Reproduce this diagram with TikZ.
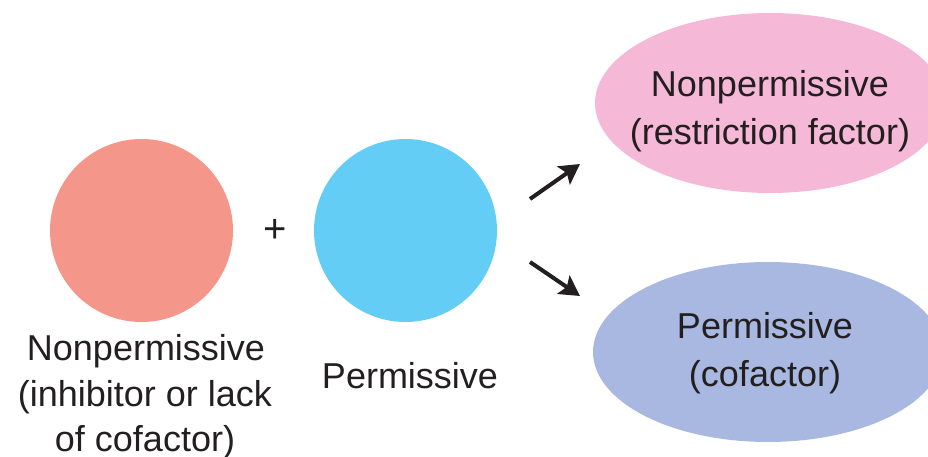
\documentclass[tikz,border=0pt]{standalone}
\usepackage{fontspec}
\setmainfont{Liberation Sans}
\usetikzlibrary{shapes.geometric,arrows.meta}
\definecolor{salmon}{RGB}{244,150,138}
\definecolor{skyb}{RGB}{100,205,245}
\definecolor{pinkel}{RGB}{245,185,215}
\definecolor{lavel}{RGB}{168,184,224}
\definecolor{txt}{RGB}{35,31,32}
\tikzset{
  cell/.style={circle, minimum size=183pt, inner sep=0pt, draw=none},
  blob/.style={ellipse, minimum width=350pt, minimum height=180pt, inner sep=0pt, draw=none},
  lbl/.style={anchor=base, inner sep=0pt, text=txt, font=\fontsize{36}{46}\selectfont},
  arr/.style={line width=4pt, txt, -{Stealth[length=20pt,width=22pt,inset=4pt]}}
}
\begin{document}
\begin{tikzpicture}[x=1pt,y=-1pt]
\useasboundingbox (0,0) rectangle (928,457);
\clip (0,0) rectangle (928,457);
\node[cell, fill=salmon] (red) at (141.5,230.5) {};
\node[cell, fill=skyb] (blue) at (405.5,230.5) {};
\node[inner sep=0pt, text=txt, font=\fontsize{40}{40}\selectfont] (plus) at (275,231) {+};
\node[blob, fill=pinkel] (pink) at (770,103) {};
\node[blob, fill=lavel] (lav) at (768,352) {};
\node[lbl] (p1) at (770,97) {Nonpermissive};
\node[lbl] (p2) at (770,145) {(restriction factor)};
\node[lbl] (l1) at (765,338) {Permissive};
\node[lbl] (l2) at (765,386) {(cofactor)};
\node[lbl] (r1) at (146,360) {Nonpermissive};
\node[lbl] (r2) at (145,406) {(inhibitor or lack};
\node[lbl] (r3) at (145,451) {of cofactor)};
\node[lbl] (b1) at (410,388) {Permissive};
\coordinate (a1s) at (530,199);
\coordinate (a1e) at (580,164);
\coordinate (a2s) at (530,262);
\coordinate (a2e) at (580,296);
\draw[arr] (a1s) -- (a1e);
\draw[arr] (a2s) -- (a2e);
\end{tikzpicture}
\end{document}
